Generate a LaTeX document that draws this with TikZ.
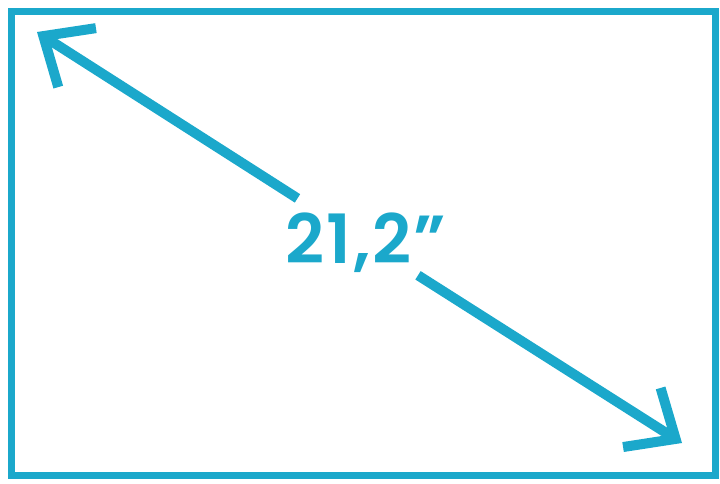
\documentclass[tikz,border=0pt]{standalone}
\usepackage{fontspec}
\newfontfamily\numfont{Poppins}[UprightFont={* SemiBold}, LetterSpace=3]
\usetikzlibrary{arrows.meta}
\definecolor{scyan}{RGB}{27,168,203}
\tikzset{
  frame/.style={draw=scyan, line width=7pt},
  shaft/.style={draw=scyan, line width=10pt},
  barbhead/.tip={Straight Barb[length=40pt, width=70pt, line width=10pt]},
  label/.style={text=scyan, font=\numfont\fontsize{68}{68}\selectfont, inner sep=3pt, anchor=base}
}
\begin{document}
\begin{tikzpicture}[x=1pt,y=-1pt]
\useasboundingbox (0,0) rectangle (720,483);
\node[frame, minimum width=703.5pt, minimum height=464.5pt, anchor=north west] (box) at (8,7.5) {};
\coordinate (a) at (37,32);
\coordinate (b) at (682,443);
\node[label] (t) at (366,263) {21,2”};
\draw[shaft, barbhead-, shorten >=20pt] (a) -- (t);
\draw[shaft, -barbhead] (t) -- (b);
\end{tikzpicture}
\end{document}
